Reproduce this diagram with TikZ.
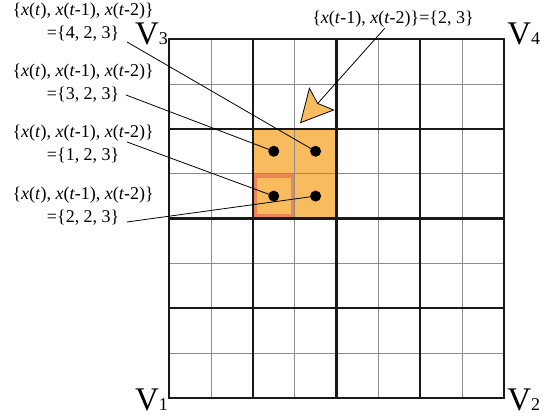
\documentclass[tikz,border=0pt]{standalone}
\usepackage{fontspec}
\setmainfont{Liberation Serif}
\usetikzlibrary{arrows.meta}

\definecolor{cellorange}{RGB}{248,187,94}
\definecolor{cellmark}{RGB}{236,135,85}
\newcommand{\xt}[1]{\textit{x}(\textit{t}#1)}
\newcommand{\vname}[1]{V{\fontsize{18}{18}\selectfont #1}}

\begin{document}
\begin{tikzpicture}[x=41.8pt, y=44.8pt,
    lbl/.style={align=center, font=\fontsize{18}{23}\selectfont, inner sep=1pt},
    corner/.style={inner sep=0pt, font=\fontsize{33}{33}\selectfont},
    dot/.style={circle, fill=black, inner sep=0pt, minimum size=11pt},
    fine/.style={black!45, line width=0.6pt},
    major/.style={black!90, line width=1.3pt},
    border/.style={black!90, line width=2.2pt},
    leader/.style={black, line width=0.8pt}]
    \useasboundingbox (-4.05,-0.453) rectangle (9.275,8.877);

    % Shaded cells
    \fill[cellorange] (2,4) rectangle (4,6);
    \draw[cellmark, line width=4pt] ([shift={(2pt,2pt)}]2,4) rectangle ([shift={(-2pt,-2pt)}]3,5);

    % Grid
    \foreach \i in {1,3,5,7} {
        \draw[fine] (\i,0) -- (\i,8);
        \draw[fine] (0,\i) -- (8,\i);
    }
    \foreach \i in {2,6} {
        \draw[major] (\i,0) -- (\i,8);
        \draw[major] (0,\i) -- (8,\i);
    }
    \draw[border] (4,0) -- (4,8);
    \draw[border] (0,4) -- (8,4);
    \draw[border] (0,0) rectangle (8,8);

    % Corner labels
    \node[corner, anchor=base east] (v1) at (-0.03,-0.275) {\vname{1}};
    \node[corner, anchor=base west] (v2) at (8.08,-0.275) {\vname{2}};
    \node[corner, anchor=base east] (v3) at (-0.03,7.873) {\vname{3}};
    \node[corner, anchor=base west] (v4) at (8.08,7.873) {\vname{4}};

    % Dots
    \node[dot] (d1) at (3.5,5.5) {};
    \node[dot] (d2) at (2.5,5.5) {};
    \node[dot] (d3) at (2.5,4.5) {};
    \node[dot] (d4) at (3.5,4.5) {};

    % Labels
    \node[lbl] (l1) at (-2.06,8.386) {\{\xt{}, \xt{-1}, \xt{-2}\}\\=\{4, 2, 3\}};
    \node[lbl] (l2) at (-2.06,7.013) {\{\xt{}, \xt{-1}, \xt{-2}\}\\=\{3, 2, 3\}};
    \node[lbl] (l3) at (-2.06,5.652) {\{\xt{}, \xt{-1}, \xt{-2}\}\\=\{1, 2, 3\}};
    \node[lbl] (l4) at (-2.06,4.279) {\{\xt{}, \xt{-1}, \xt{-2}\}\\=\{2, 2, 3\}};

    % Leader lines
    \coordinate (s1) at (-1.012,7.940);
    \coordinate (s2) at (-1.036,6.757);
    \coordinate (s3) at (-1.012,5.708);
    \coordinate (s4) at (-1.012,3.922);
    \draw[leader] (s1) -- (d1.center);
    \draw[leader] (s2) -- (d2.center);
    \draw[leader] (s3) -- (d3.center);
    \draw[leader] (s4) -- (d4.center);

    % Top label and arrow
    \node[lbl] (top) at (5.352,8.453) {\{\xt{-1}, \xt{-2}\}=\{2, 3\}};
    \coordinate (tip) at (3.127,6.125);
    \draw[leader, -{Stealth[length=33pt, width=34pt, inset=6pt, fill=cellorange]}] (top) -- (tip);
\end{tikzpicture}
\end{document}
